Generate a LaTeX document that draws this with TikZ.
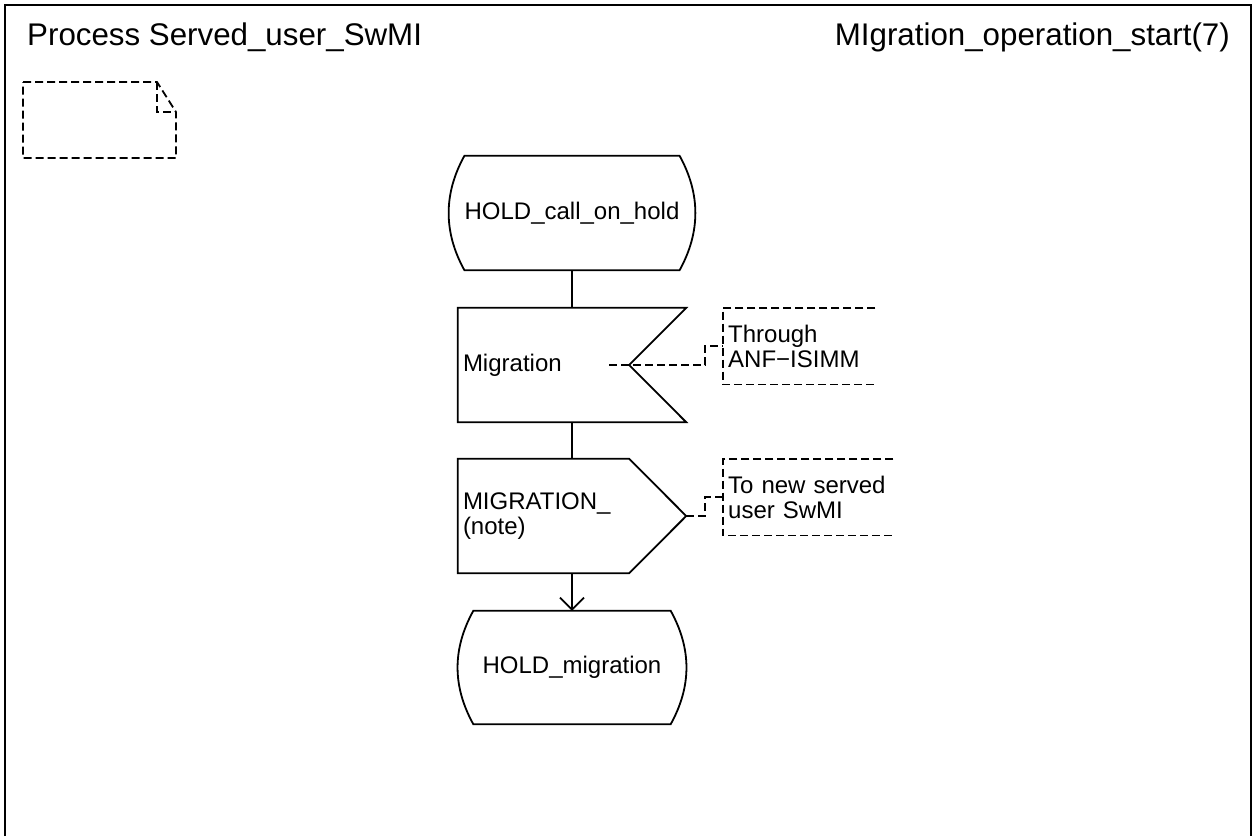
\documentclass[tikz,border=0pt]{standalone}
\usepackage{fontspec}
\setmainfont{Liberation Sans}
\usetikzlibrary{arrows.meta}

\begin{document}
\begin{tikzpicture}[x=1pt,y=1pt,yscale=-1,xscale=1,
  every node/.style={inner sep=0pt,font=\fontsize{24}{25.5}\selectfont},
  titletext/.style={font=\fontsize{31.3}{37}\selectfont},
  holdbox/.style={minimum width=197pt,minimum height=114pt},
  sigbox/.style={minimum height=114pt,text width=218pt,inner xsep=5pt,align=left},
  notebox/.style={anchor=north west,minimum height=76pt,inner xsep=5pt,align=left},
  outline/.style={line width=1.8pt},
  notelink/.style={line width=1.8pt,dash pattern=on 8pt off 4pt}]
\useasboundingbox (0,0) rectangle (1258,836);

%Frame
\draw[line width=2.2pt] (5,836) -- (5,5) -- (1251,5) -- (1251,836) ;

% Text Node
\node[titletext,anchor=base west] (proc) at (27,45) {Process Served\_user\_SwMI};
% Text Node
\node[titletext,anchor=base east] (page) at (1230,45) {MIgration\_operation\_start(7)};

%Page symbol
\draw[notelink] (23,82) -- (157,82) -- (176,112) -- (176,158) -- (23,158) -- cycle ;
\draw[notelink] (157,82) -- (157,112) -- (176,112) ;

%State
\node[holdbox] (hold1) at (572,213) {HOLD\_call\_on\_hold};
\draw[outline] (hold1.north west) -- (hold1.north east) .. controls +(21,38) and +(21,-38) .. (hold1.south east)
  -- (hold1.south west) .. controls +(-21,-38) and +(-21,38) .. (hold1.north west) -- cycle ;

%Input
\node[sigbox] (mig) at (572,365) {Migration};
\draw[outline] (mig.north west) -- (mig.north east) -- ([xshift=-57pt]mig.east) -- (mig.south east) -- (mig.south west) -- cycle ;

%Output
\node[sigbox] (out) at (572,516) {MIGRATION\_\\(note)};
\draw[outline] (out.north west) -- ([xshift=-57pt]out.north east) -- (out.east) -- ([xshift=-57pt]out.south east) -- (out.south west) -- cycle ;

%State
\node[holdbox,minimum height=113pt] (hold2) at (572,667.5) {HOLD\_migration};
\draw[outline] (hold2.north west) -- (hold2.north east) .. controls +(21,38) and +(21,-38) .. (hold2.south east)
  -- (hold2.south west) .. controls +(-21,-38) and +(-21,38) .. (hold2.north west) -- cycle ;

%Comments
\node[notebox,text width=142pt] (c1) at (723,308) {Through\\ANF−ISIMM};
\draw[notelink] (c1.north east) -- (c1.north west) -- (c1.south west) -- (c1.south east) ;
\node[notebox,text width=160pt] (c2) at (723,459) {To new served\\user SwMI};
\draw[notelink] (c2.north east) -- (c2.north west) -- (c2.south west) -- (c2.south east) ;

%Flow lines
\draw[outline] (hold1.south) -- (mig.north) ;
\draw[outline] (mig.south) -- (out.north) ;
\draw[outline,-{Straight Barb[length=12pt,width=24pt]}] (out.south) -- (hold2.north) ;

%Comment links
\coordinate (m1) at (609,365);
\draw[notelink] (m1) -- ++(96,0) |- (c1.west) ;
\draw[notelink] (out.east) -- ++(19,0) |- (c2.west) ;

\end{tikzpicture}
\end{document}
